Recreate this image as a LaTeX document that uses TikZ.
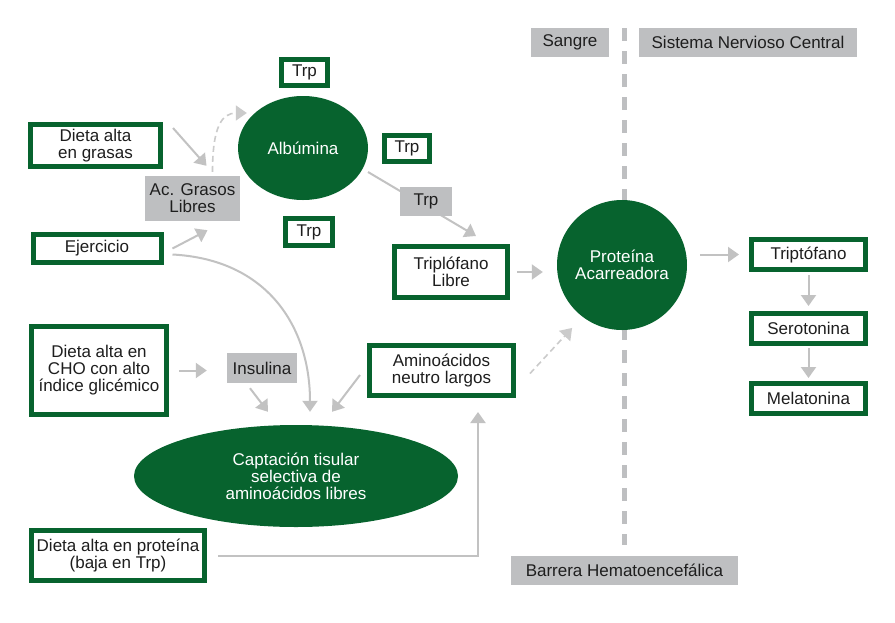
\documentclass[tikz,border=0pt]{standalone}
\usepackage{fontspec}
\setmainfont{Liberation Sans}
\usepackage{xcolor}
\usepackage{tikz}
\usetikzlibrary{calc,arrows.meta,shapes.geometric}
\definecolor{leaf}{HTML}{07632E}
\definecolor{ash}{HTML}{BEBFC1}
\definecolor{wire}{HTML}{C2C2C2}
\definecolor{wired}{HTML}{CBCBCB}
\definecolor{ink}{HTML}{1E1E1E}
\tikzset{
  gbox/.style={draw=leaf, line width=5pt, fill=white, text=ink, inner sep=0pt, align=center, font=\fontsize{17}{17}\selectfont},
  tag/.style={fill=ash, text=ink, inner sep=0pt, align=center, font=\fontsize{17}{17}\selectfont},
  blob/.style={ellipse, fill=leaf, text=white, inner sep=0pt, align=center, font=\fontsize{17}{17}\selectfont},
  link/.style={draw=wire, line width=2pt, -{Triangle[length=11pt,width=15pt]}},
  linkd/.style={draw=wired, line width=1.6pt, dash pattern=on 6pt off 4pt, -{Triangle[length=11pt,width=15pt]}},
  wall/.style={draw=ash, line width=5pt, dash pattern=on 13pt off 10pt},
}

\begin{document}
\begin{tikzpicture}[x=1pt,y=-1pt]
  \useasboundingbox[fill=white] (0,0) rectangle (895,622);
  % barrera
  \coordinate (walltop) at (624,28);
  \coordinate (wallbot) at (624,545);
  \draw[wall] (walltop) -- (wallbot);
  \node[tag, minimum width=78pt, minimum height=29pt] (sangre) at (570,42.5) {Sangre};
  \node[tag, minimum width=218pt, minimum height=29pt] (snc) at (748,42.5) {Sistema Nervioso Central};
  \node[tag, minimum width=227pt, minimum height=29pt] (bhe) at (624.5,570.5) {Barrera Hematoencefálica};
  % ovalos
  \node[blob, circle, minimum size=130pt] (carrier) at (622,265) {Proteína\\Acarreadora};
  \node[blob, minimum width=130pt, minimum height=104pt] (alb) at (303,148) {Albúmina};
  \node[blob, minimum width=324pt, minimum height=102pt] (capt) at (296,476) {Captación tisular\\selectiva de\\aminoácidos libres};
  % entradas
  \node[gbox, minimum width=130pt, minimum height=42pt] (grasas) at (95.5,145.5) {Dieta alta\\en grasas};
  \node[gbox, minimum width=128pt, minimum height=28pt] (ejer) at (97,248.5) {Ejercicio};
  \node[gbox, minimum width=135pt, minimum height=88pt] (cho) at (99,370.5) {Dieta alta en\\CHO con alto\\índice glicémico};
  \node[gbox, minimum width=173pt, minimum height=50pt] (prot) at (118,555.5) {Dieta alta en proteína\\(baja en Trp)};
  \node[tag, minimum width=95pt, minimum height=45pt] (acg) at (192.5,198.5) {Ac. Grasos\\Libres};
  \node[tag, minimum width=70pt, minimum height=30pt] (ins) at (262,368) {Insulina};
  % trp
  \node[gbox, minimum width=46pt, minimum height=26pt] (trpa) at (304.5,72.5) {Trp};
  \node[gbox, minimum width=45pt, minimum height=26pt] (trpb) at (407,148.5) {Trp};
  \node[gbox, minimum width=47pt, minimum height=27pt] (trpc) at (309,232) {Trp};
  \node[gbox, minimum width=113pt, minimum height=51pt] (libre) at (451,272) {Triplófano\\Libre};
  \node[gbox, minimum width=144pt, minimum height=50pt] (amino) at (441.5,370.5) {Aminoácidos\\neutro largos};
  \draw[link] ([shift={(65,24)}]alb.center) -- ([shift={(25,-8)}]libre.north);
  \node[tag, minimum width=52pt, minimum height=29pt] (trpf) at (426,201.5) {Trp};
  % snc
  \node[gbox, minimum width=114pt, minimum height=30pt] (trip) at (808.5,254.5) {Triptófano};
  \node[gbox, minimum width=114pt, minimum height=30pt] (sero) at (808.5,328.5) {Serotonina};
  \node[gbox, minimum width=114pt, minimum height=30pt] (mela) at (808.5,398.5) {Melatonina};
  % flechas
  \draw[link] ([shift={(10,6)}]grasas.north east) -- ([shift={(14,-10)}]acg.north);
  \draw[link] ([shift={(9,0)}]ejer.east) -- ([shift={(15,9)}]acg.south);
  \draw[linkd] ([shift={(20,-4)}]acg.north) .. controls +(0,-45) and +(-25,0) .. ([shift={(9,-35)}]alb.west);
  \draw[link] ([shift={(9,6)}]ejer.east) .. controls +(95,5) and +(0,-85) .. ([shift={(14,-13)}]capt.north);
  \draw[link] ($(libre.east)+(7,0)$) -- ($(libre.east -| carrier.west)+(-14,0)$);
  \draw[linkd] ([shift={(14,3)}]amino.east) -- ([shift={(-8,13)}]carrier.230);
  \draw[link] ($(trip.west -| carrier.east)+(13,0)$) -- ($(trip.west)+(-10,0)$);
  \draw[link, shorten <=3pt, shorten >=5pt] (trip) -- (sero);
  \draw[link, shorten <=2pt, shorten >=3pt] (sero) -- (mela);
  \draw[link] ($(cho.east)+(10,0)$) -- ($(cho.east -| ins.west)+(-20,0)$);
  \draw[link] ([shift={(-12,5)}]ins.south) -- ([shift={(-28,-13)}]capt.north);
  \draw[link] ([shift={(-7,4.5)}]amino.west) -- ([shift={(36,-13)}]capt.north);
  \draw[link] ($(prot.east)+(11,0)$) -| ($(amino.south)+(36.5,14)$);
\end{tikzpicture}
\end{document}
